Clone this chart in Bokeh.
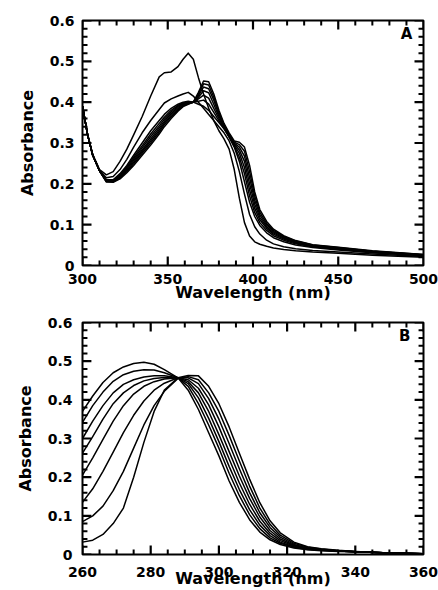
from bokeh.plotting import figure
from bokeh.models import Range1d, Label, SingleIntervalTicker, ColumnDataSource
from bokeh.layouts import column
from bokeh.embed import file_html
from bokeh.resources import INLINE

# ---------------- Panel A data ----------------
wl_a = [300, 303, 306, 310, 314, 318, 322, 326, 330, 335,
        340, 345, 348, 352, 356, 359, 362, 365, 368, 371,
        374, 377, 380, 383, 386, 389, 392, 395, 398, 401,
        404, 408, 412, 418, 425, 435, 450, 470, 500]

a1 = [0.39, 0.32, 0.272, 0.235, 0.222, 0.23, 0.255, 0.285, 0.32, 0.365,
      0.415, 0.462, 0.472, 0.474, 0.487, 0.505, 0.52, 0.505, 0.46, 0.42,
      0.385, 0.355, 0.33, 0.31, 0.285, 0.235, 0.165, 0.105, 0.072, 0.058,
      0.052, 0.047, 0.043, 0.039, 0.036, 0.033, 0.03, 0.025, 0.02]
a2 = [0.39, 0.32, 0.27, 0.232, 0.215, 0.218, 0.235, 0.26, 0.29, 0.325,
      0.355, 0.382, 0.398, 0.408, 0.415, 0.42, 0.424, 0.415, 0.40, 0.385,
      0.37, 0.355, 0.34, 0.325, 0.305, 0.275, 0.23, 0.175, 0.125, 0.095,
      0.077, 0.062, 0.053, 0.046, 0.041, 0.037, 0.033, 0.028, 0.022]
a3 = [0.39, 0.32, 0.27, 0.232, 0.21, 0.21, 0.225, 0.245, 0.27, 0.30,
      0.33, 0.355, 0.37, 0.385, 0.395, 0.40, 0.402, 0.40, 0.395, 0.39,
      0.38, 0.365, 0.35, 0.335, 0.315, 0.29, 0.255, 0.205, 0.155, 0.12,
      0.098, 0.08, 0.068, 0.058, 0.05, 0.044, 0.038, 0.031, 0.024]
a4 = [0.39, 0.32, 0.27, 0.232, 0.209, 0.209, 0.222, 0.242, 0.265, 0.293,
      0.322, 0.348, 0.363, 0.38, 0.392, 0.398, 0.40, 0.40, 0.402, 0.405,
      0.395, 0.375, 0.355, 0.335, 0.315, 0.292, 0.265, 0.225, 0.17, 0.13,
      0.105, 0.086, 0.073, 0.062, 0.053, 0.046, 0.04, 0.032, 0.025]
a5 = [0.39, 0.32, 0.27, 0.232, 0.208, 0.208, 0.22, 0.239, 0.261, 0.288,
      0.316, 0.342, 0.358, 0.376, 0.39, 0.397, 0.399, 0.40, 0.408, 0.417,
      0.41, 0.385, 0.36, 0.337, 0.315, 0.295, 0.275, 0.24, 0.185, 0.14,
      0.112, 0.091, 0.077, 0.065, 0.055, 0.047, 0.041, 0.033, 0.025]
a6 = [0.39, 0.32, 0.27, 0.232, 0.207, 0.207, 0.218, 0.236, 0.257, 0.283,
      0.31, 0.337, 0.353, 0.372, 0.387, 0.395, 0.398, 0.40, 0.412, 0.428,
      0.423, 0.395, 0.365, 0.34, 0.317, 0.298, 0.283, 0.255, 0.20, 0.15,
      0.118, 0.095, 0.08, 0.067, 0.057, 0.048, 0.042, 0.034, 0.026]
a7 = [0.39, 0.32, 0.27, 0.232, 0.206, 0.206, 0.216, 0.233, 0.253, 0.279,
      0.305, 0.332, 0.349, 0.368, 0.384, 0.393, 0.397, 0.40, 0.416, 0.437,
      0.433, 0.405, 0.37, 0.343, 0.32, 0.30, 0.29, 0.268, 0.215, 0.16,
      0.124, 0.099, 0.083, 0.069, 0.058, 0.049, 0.043, 0.035, 0.026]
a8 = [0.39, 0.32, 0.27, 0.232, 0.205, 0.205, 0.214, 0.23, 0.249, 0.275,
      0.30, 0.327, 0.345, 0.364, 0.381, 0.391, 0.396, 0.40, 0.42, 0.445,
      0.442, 0.412, 0.375, 0.345, 0.322, 0.302, 0.296, 0.28, 0.23, 0.17,
      0.13, 0.103, 0.086, 0.071, 0.06, 0.05, 0.044, 0.035, 0.027]
a9 = [0.39, 0.32, 0.27, 0.232, 0.205, 0.204, 0.212, 0.227, 0.245, 0.27,
      0.295, 0.322, 0.34, 0.36, 0.378, 0.389, 0.395, 0.40, 0.424, 0.452,
      0.45, 0.42, 0.38, 0.348, 0.325, 0.305, 0.302, 0.29, 0.245, 0.18,
      0.137, 0.108, 0.089, 0.073, 0.061, 0.051, 0.045, 0.036, 0.027]
series_a = [a1, a2, a3, a4, a5, a6, a7, a8, a9]

# ---------------- Panel B data ----------------
wl_b = [260, 263, 266, 269, 272, 275, 278, 281, 284, 288,
        291, 294, 297, 300, 303, 306, 309, 312, 315, 318,
        322, 326, 330, 335, 340, 350, 360]

b1 = [0.37, 0.41, 0.445, 0.47, 0.485, 0.494, 0.497, 0.492, 0.478, 0.457,
      0.425, 0.375, 0.315, 0.255, 0.19, 0.135, 0.09, 0.058, 0.038, 0.026,
      0.017, 0.012, 0.01, 0.008, 0.007, 0.004, 0.002]
b2 = [0.342, 0.385, 0.42, 0.448, 0.465, 0.474, 0.478, 0.477, 0.47, 0.457,
      0.435, 0.39, 0.335, 0.275, 0.21, 0.152, 0.103, 0.067, 0.043, 0.029,
      0.019, 0.013, 0.011, 0.009, 0.007, 0.004, 0.002]
b3 = [0.30, 0.345, 0.385, 0.418, 0.44, 0.452, 0.459, 0.462, 0.462, 0.457,
      0.442, 0.405, 0.352, 0.292, 0.228, 0.168, 0.116, 0.076, 0.049, 0.032,
      0.02, 0.014, 0.011, 0.009, 0.007, 0.004, 0.002]
b4 = [0.262, 0.305, 0.35, 0.39, 0.418, 0.437, 0.449, 0.455, 0.458, 0.457,
      0.447, 0.418, 0.37, 0.31, 0.247, 0.185, 0.13, 0.086, 0.055, 0.036,
      0.022, 0.015, 0.012, 0.009, 0.007, 0.004, 0.002]
b5 = [0.205, 0.25, 0.298, 0.345, 0.385, 0.415, 0.435, 0.447, 0.454, 0.457,
      0.452, 0.43, 0.387, 0.33, 0.266, 0.203, 0.145, 0.097, 0.062, 0.04,
      0.024, 0.016, 0.012, 0.009, 0.007, 0.004, 0.002]
b6 = [0.135, 0.17, 0.215, 0.265, 0.315, 0.36, 0.397, 0.425, 0.443, 0.457,
      0.457, 0.442, 0.403, 0.35, 0.287, 0.222, 0.16, 0.108, 0.07, 0.045,
      0.026, 0.017, 0.013, 0.01, 0.007, 0.004, 0.002]
b7 = [0.085, 0.10, 0.125, 0.165, 0.215, 0.275, 0.335, 0.385, 0.422, 0.455,
      0.46, 0.452, 0.418, 0.37, 0.308, 0.242, 0.177, 0.12, 0.078, 0.05,
      0.029, 0.019, 0.014, 0.01, 0.008, 0.004, 0.002]
b8 = [0.032, 0.037, 0.052, 0.08, 0.12, 0.20, 0.29, 0.37, 0.425, 0.457,
      0.463, 0.462, 0.435, 0.39, 0.33, 0.262, 0.195, 0.134, 0.087, 0.056,
      0.032, 0.02, 0.015, 0.011, 0.008, 0.004, 0.002]
series_b = [b1, b2, b3, b4, b5, b6, b7, b8]

# ---------------- tick positions ----------------
xa_major = [300, 350, 400, 450, 500]
xa_minor = [310, 320, 330, 340, 360, 370, 380, 390, 410, 420, 430, 440,
            460, 470, 480, 490]
xb_major = [260, 280, 300, 320, 340, 360]
xb_minor = [265, 270, 275, 285, 290, 295, 305, 310, 315, 325, 330, 335,
            345, 350, 355]
y_major = [0, 0.1, 0.2, 0.3, 0.4, 0.5, 0.6]
y_minor = [0.02, 0.04, 0.06, 0.08, 0.12, 0.14, 0.16, 0.18, 0.22, 0.24, 0.26,
           0.28, 0.32, 0.34, 0.36, 0.38, 0.42, 0.44, 0.46, 0.48, 0.52, 0.54,
           0.56, 0.58]
y_labels = {0: "0"}

FONT = "DejaVu Sans"
YMAX = 0.6000001


def style_axis(ax, lab_standoff, title_standoff):
    ax.axis_line_color = None
    ax.major_tick_line_color = None
    ax.minor_tick_line_color = None
    ax.major_tick_in = 0
    ax.major_tick_out = 0
    ax.minor_tick_in = 0
    ax.minor_tick_out = 0
    ax.major_label_text_font = FONT
    ax.major_label_text_font_style = "bold"
    ax.major_label_text_font_size = "14px"
    ax.major_label_text_color = "black"
    ax.axis_label_text_font = FONT
    ax.axis_label_text_font_style = "bold"
    ax.axis_label_text_font_size = "16px"
    ax.axis_label_text_color = "black"
    ax.major_label_standoff = lab_standoff
    ax.axis_label_standoff = title_standoff


def add_ticks(p, xr, xmaj, xmin, frame_w, frame_h):
    # tick lengths: 9 px (major) and 5 px (minor), converted to data units
    x0, x1 = xr
    dxp = (x1 - x0) / frame_w
    dyp = 0.6 / frame_h
    for vals, ln, lw in ((xmaj, 9, 2.2), (xmin, 5, 2)):
        n = len(vals)
        p.segment(x0=vals, y0=[0] * n, x1=vals, y1=[ln * dyp] * n,
                  line_color="black", line_width=lw)
        p.segment(x0=vals, y0=[0.6] * n, x1=vals, y1=[0.6 - ln * dyp] * n,
                  line_color="black", line_width=lw)
    for vals, ln, lw in ((y_major, 9, 2.2), (y_minor, 5, 2)):
        n = len(vals)
        p.segment(x0=[x0] * n, y0=vals, x1=[x0 + ln * dxp] * n, y1=vals,
                  line_color="black", line_width=lw)
        p.segment(x0=[x1] * n, y0=vals, x1=[x1 - ln * dxp] * n, y1=vals,
                  line_color="black", line_width=lw)


def make_panel(wl, series, xr, x_int, xmaj, xmin, height, borders, letter, letter_xy,
               xlab_standoff, xtitle_standoff, ylab_standoff, frame_h):
    p = figure(width=438, height=height, output_backend="svg", toolbar_location=None,
               x_range=Range1d(*xr), y_range=Range1d(0, YMAX),
               min_border_left=borders[0], min_border_right=borders[1],
               min_border_top=borders[2], min_border_bottom=borders[3])
    p.xgrid.visible = False
    p.ygrid.visible = False
    p.outline_line_color = "black"
    p.outline_line_width = 2
    p.background_fill_color = "white"
    p.border_fill_color = "white"

    p.xaxis.ticker = SingleIntervalTicker(interval=x_int)
    p.yaxis.ticker = SingleIntervalTicker(interval=0.1)
    p.xaxis.axis_label = "Wavelength (nm)"
    p.yaxis.axis_label = "Absorbance"
    p.yaxis.major_label_overrides = y_labels
    for ax in p.xaxis:
        style_axis(ax, xlab_standoff, xtitle_standoff)
    for ax in p.yaxis:
        style_axis(ax, ylab_standoff, 10)

    frame_w = 438 - borders[0] - borders[1]
    add_ticks(p, xr, xmaj, xmin, frame_w, frame_h)

    src = ColumnDataSource(dict(xs=[wl] * len(series), ys=series))
    p.multi_line(xs="xs", ys="ys", source=src, line_color="black", line_width=1.5,
                 line_join="round")

    p.add_layout(Label(x=letter_xy[0], y=letter_xy[1], text=letter,
                       text_font=FONT, text_font_style="bold", text_font_size="15px",
                       text_align="center", text_baseline="middle", text_color="black"))
    return p


pa = make_panel(wl_a, series_a, (300, 500), 50, xa_major, xa_minor, 304,
                (82, 15, 20, 37), "A", (490, 0.568), 8, -4, 8, 245)
pb = make_panel(wl_b, series_b, (260, 360), 20, xb_major, xb_minor, 286,
                (79, 14, 18, 35), "B", (354.5, 0.566), 12, -11, 10, 231)

layout = column(pa, pb, spacing=0)
open("out.html", "w").write(file_html(layout, INLINE))
